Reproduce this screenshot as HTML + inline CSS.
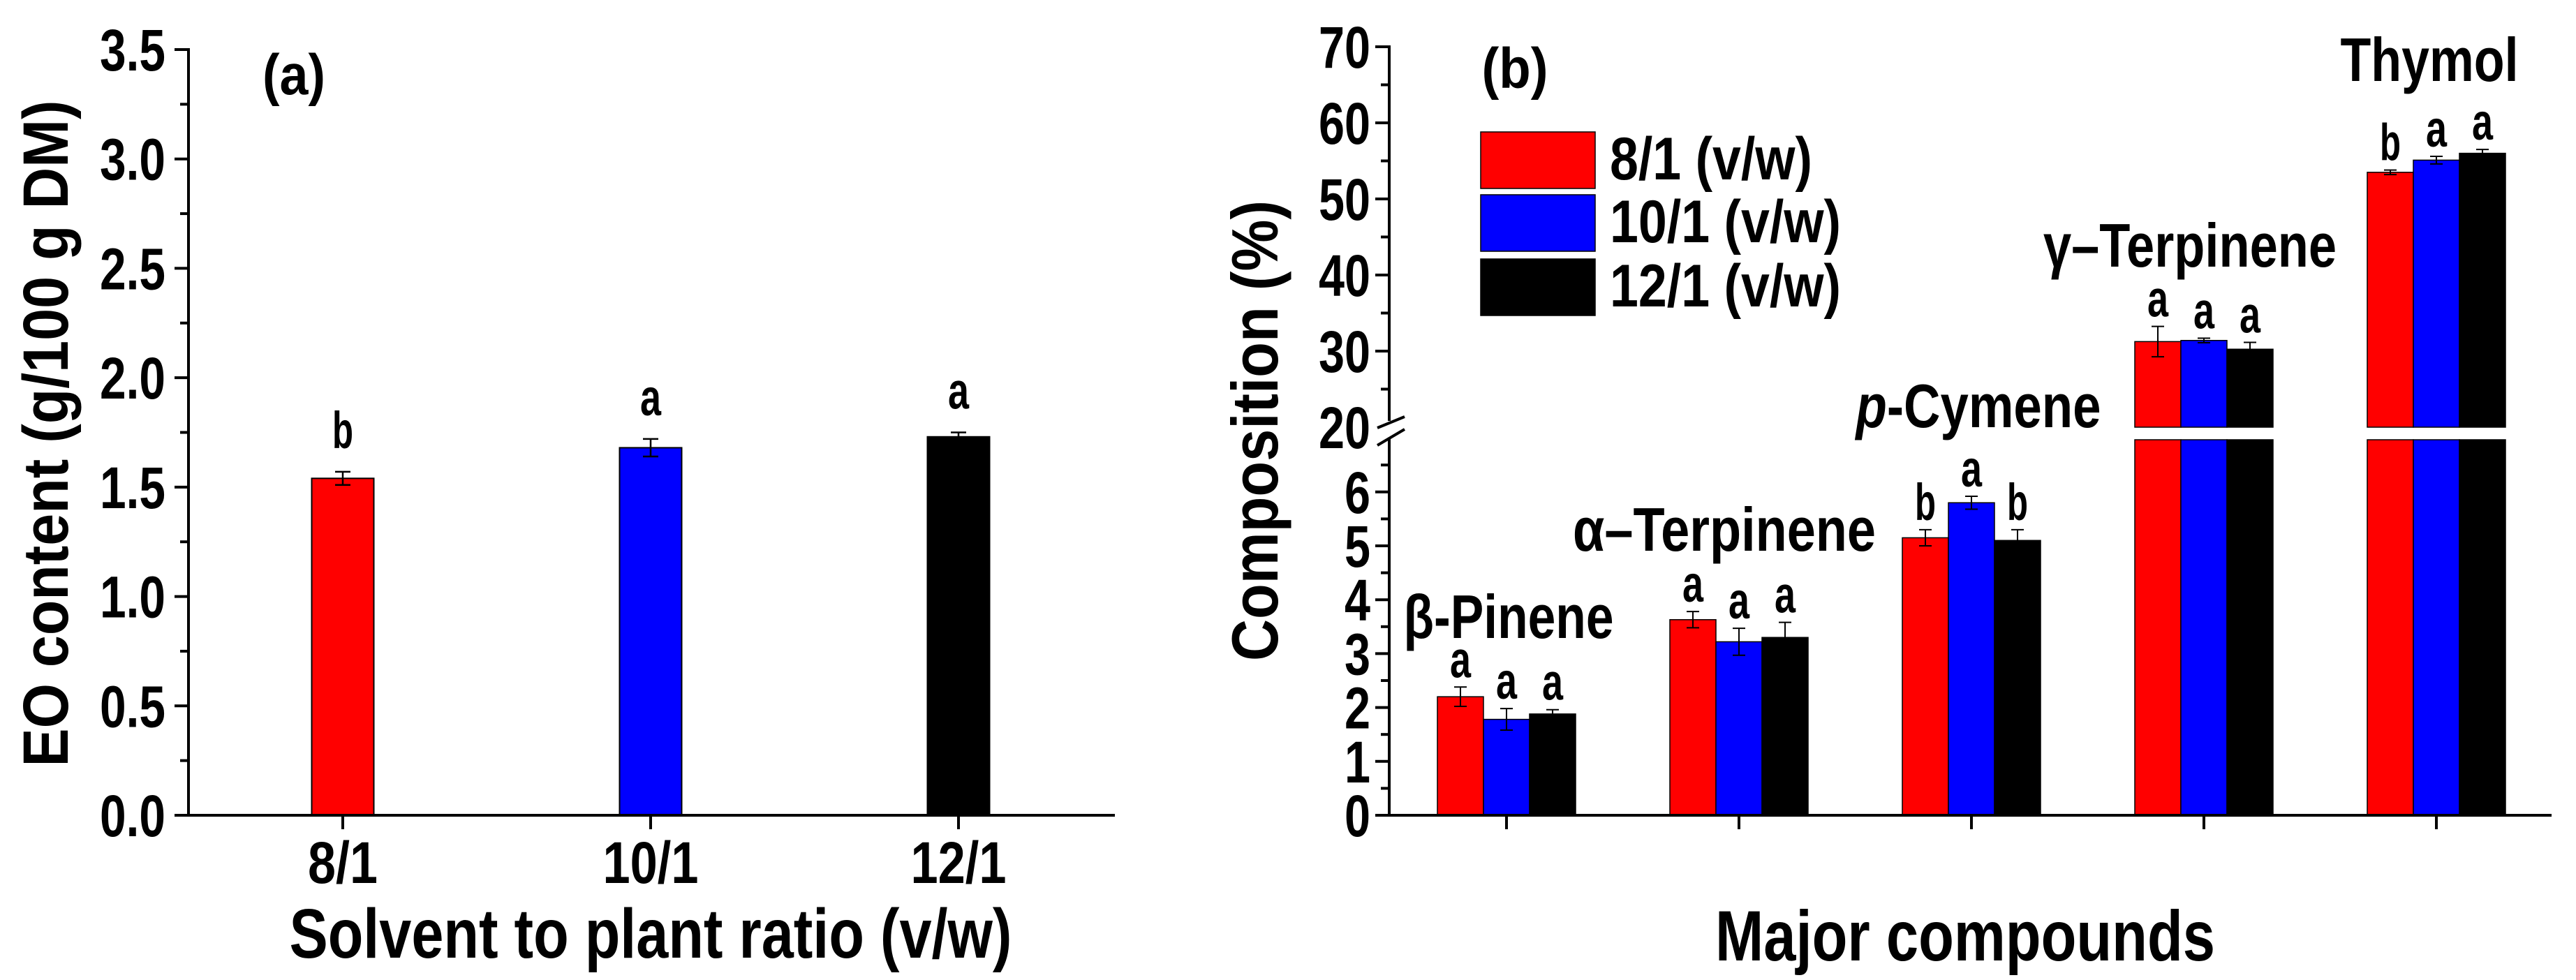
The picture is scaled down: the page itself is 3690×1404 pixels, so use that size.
<!DOCTYPE html>
<html><head><meta charset="utf-8">
<style>
html,body{margin:0;padding:0;background:#fff;}
svg{display:block;}
text{font-family:"Liberation Sans Narrow","Liberation Sans",sans-serif;font-weight:bold;fill:#000;}
.wide{font-family:"Liberation Sans",sans-serif;}
</style></head>
<body>
<svg id="chart" width="3690" height="1404" viewBox="0 0 3690 1404" xmlns="http://www.w3.org/2000/svg">
<g id="pa"></g>
<g id="pb"></g>
</svg>
<script>
// ---- Panel (a) data ----
const aCategories = ["8/1","10/1","12/1"];
const aValues = [1.54, 1.68, 1.73];
const aErrors = [0.03, 0.04, 0.02];
const aLetters = ["b","a","a"];
const aColors = ["#ff0000","#0000ff","#000000"];
const aTicks = ["0.0","0.5","1.0","1.5","2.0","2.5","3.0","3.5"];

// ---- Panel (b) data ----
const bCompounds = ["β-Pinene","α–Terpinene","p-Cymene","γ–Terpinene","Thymol"];
const bSeries = ["8/1 (v/w)","10/1 (v/w)","12/1 (v/w)"];
const b81 = [2.2, 3.63, 5.15, 31.25, 53.5];
const b101 = [1.78, 3.22, 5.8, 31.4, 55.1];
const b121 = [1.88, 3.3, 5.1, 30.25, 56.0];
const b81Err = [0.18, 0.15, 0.15, 2.0, 0.3];
const b101Err = [0.2, 0.25, 0.12, 0.3, 0.5];
const b121Err = [0.08, 0.28, 0.2, 0.9, 0.5];
const b81Let = ["a","a","b","a","b"];
const b101Let = ["a","a","a","a","a"];
const b121Let = ["a","a","b","a","a"];
const bLowTicks = ["0","1","2","3","4","5","6"];
const bHighTicks = ["20","30","40","50","60","70"];

const NS="http://www.w3.org/2000/svg";
function mk(parent, tag, attrs){const e=document.createElementNS(NS,tag);for(const k in attrs)e.setAttribute(k,attrs[k]);parent.appendChild(e);return e;}
function txt(parent,x,y,s,size,anchor,extra){const t=mk(parent,'text',Object.assign({x:x,y:y,'font-size':size,'text-anchor':anchor||'middle'},extra||{}));t.textContent=s;return t;}
function numW(s){let w=0;for(const ch of s){w+= ch==='.'?20: ch==='/'?26: 37;}return w;}
function numTxt(parent,x,y,s,anchor){return txt(parent,x,y,s,84,anchor,{textLength:numW(s),lengthAdjust:'spacingAndGlyphs'});}

// ===== Panel A =====
const pa=document.getElementById('pa');
const aX0=270, aX1=1597, aY0=1168, aYTop=71, aMax=3.5;
const ay=v=>aY0-(v/aMax)*(aY0-aYTop);
const aCenters=[491,932,1372];
const ax=i=>aCenters[0]+i*(aCenters[1]-aCenters[0]);
const aBW=89;
aValues.forEach((v,i)=>{
  const r=mk(pa,'rect',{x:ax(i)-aBW/2,y:ay(v),width:aBW,height:aY0-ay(v),fill:aColors[i],stroke:'#000','stroke-width':2});
  
  
  const top=ay(v+aErrors[i]), bot=ay(v-aErrors[i]);
  const eb=mk(pa,'path',{d:`M${ax(i)},${top}V${bot}M${ax(i)-11},${top}h22M${ax(i)-11},${bot}h22`,stroke:'#000','stroke-width':2.5,fill:'none'});
  
  
  const l=txt(pa,ax(i),top-34,aLetters[i],74,'middle',{textLength:30,lengthAdjust:'spacingAndGlyphs'});
  
  
  const tl=numTxt(pa,ax(i),1265,aCategories[i],'middle');
  
  
  mk(pa,'line',{x1:ax(i),y1:aY0,x2:ax(i),y2:aY0+20,stroke:'#000','stroke-width':4});
});
aTicks.forEach((s,i)=>{
  const v=parseFloat(s), y=ay(v);
  mk(pa,'line',{x1:aX0-20,y1:y,x2:aX0,y2:y,stroke:'#000','stroke-width':4});
  if(i<aTicks.length-1) mk(pa,'line',{x1:aX0-12,y1:ay(v+0.25),x2:aX0,y2:ay(v+0.25),stroke:'#000','stroke-width':4});
  const t=numTxt(pa,237,y+30,s,'end');
  
  
});
mk(pa,'line',{x1:aX0,y1:aYTop-2,x2:aX0,y2:aY0+2,stroke:'#000','stroke-width':4,});
mk(pa,'line',{x1:aX0-20,y1:aY0,x2:aX1,y2:aY0,stroke:'#000','stroke-width':4,});
txt(pa,421,135,"(a)",82,'middle',{textLength:90,lengthAdjust:'spacingAndGlyphs',});
txt(pa,0,0,"EO content (g/100 g DM)",92,'middle',{'class':'wide',transform:'translate(97,621) rotate(-90)',textLength:955,lengthAdjust:'spacingAndGlyphs',});
txt(pa,932,1372,"Solvent to plant ratio (v/w)",100,'middle',{textLength:1035,lengthAdjust:'spacingAndGlyphs',});

// ===== Panel B =====
const pb=document.getElementById('pb');
const bX0=1990, bX1=3655, bY0=1168, lowUnit=77.2, lowTop=6.95, highBase=612, highUnit=10.9;
const by=v=>v<=lowTop? bY0-v*lowUnit : highBase-(v-20)*highUnit;
const bCenters=[2158,2491];
const bx=i=>bCenters[0]+i*(bCenters[1]-bCenters[0]);
const bBW=66;
const gapTop=612, gapBot=630;
const series=[[b81,b81Err,b81Let,'#ff0000'],[b101,b101Err,b101Let,'#0000ff'],[b121,b121Err,b121Let,'#000000']];
bCompounds.forEach((c,i)=>{
  series.forEach((s,j)=>{
    const v=s[0][i], x=bx(i)+(j-1)*bBW-bBW/2;
    if(v>lowTop){
      const r1=mk(pb,'rect',{x:x,y:by(v),width:bBW,height:gapTop-by(v),fill:s[3],stroke:'#000','stroke-width':1.5});
      
      
      const r2=mk(pb,'rect',{x:x,y:gapBot,width:bBW,height:bY0-gapBot,fill:s[3],stroke:'#000','stroke-width':1.5});
      
      
    } else {
      const r=mk(pb,'rect',{x:x,y:by(v),width:bBW,height:bY0-by(v),fill:s[3],stroke:'#000','stroke-width':1.5});
      
      
    }
    const cx=x+bBW/2, e=s[1][i], top=by(v+e), bot=by(v-e);
    const eb=mk(pb,'path',{d:`M${cx},${top}V${bot}M${cx-9},${top}h18M${cx-9},${bot}h18`,stroke:'#000','stroke-width':2,fill:'none'});
    
    
    const l=txt(pb,cx,top-14,s[2][i],74,'middle',{textLength:30,lengthAdjust:'spacingAndGlyphs'});
    
    
  });
  mk(pb,'line',{x1:bx(i),y1:bY0,x2:bx(i),y2:bY0+20,stroke:'#000','stroke-width':4});
});
// compound labels
const clab=[[2161,914,"β-Pinene",301],[2470,789,"α–Terpinene",434],[2834,612,"p-Cymene",351],[3137,382,"γ–Terpinene",420],[3480,116,"Thymol",255]];
clab.forEach(c=>{
  const t=txt(pb,c[0],c[1],'',88,'middle',{textLength:c[3],lengthAdjust:'spacingAndGlyphs'});
  if(c[2]==="p-Cymene"){const a=mk(t,'tspan',{'font-style':'italic'});a.textContent='p';const b=mk(t,'tspan',{});b.textContent='-Cymene';}
  else t.textContent=c[2];
  
  
});
bLowTicks.forEach((s,i)=>{
  const v=parseFloat(s), y=by(v);
  mk(pb,'line',{x1:bX0-20,y1:y,x2:bX0,y2:y,stroke:'#000','stroke-width':4});
  mk(pb,'line',{x1:bX0-12,y1:by(v+0.5),x2:bX0,y2:by(v+0.5),stroke:'#000','stroke-width':4});
  const t=numTxt(pb,1963,y+30,s,'end');
  
  
});
bHighTicks.forEach((s,i)=>{
  const v=parseFloat(s), y=by(v);
  if(v>20) mk(pb,'line',{x1:bX0-20,y1:y,x2:bX0,y2:y,stroke:'#000','stroke-width':4});
  if(v<70) mk(pb,'line',{x1:bX0-12,y1:by(v+5),x2:bX0,y2:by(v+5),stroke:'#000','stroke-width':4});
  const t=numTxt(pb,1963,y+30,s,'end');
  
  
});
mk(pb,'line',{x1:bX0,y1:by(70)-2,x2:bX0,y2:603,stroke:'#000','stroke-width':4,});
mk(pb,'line',{x1:bX0,y1:628,x2:bX0,y2:bY0+2,stroke:'#000','stroke-width':4,});
mk(pb,'path',{d:'M1973,613L2012,597M1973,638L2012,615',stroke:'#000','stroke-width':4,fill:'none',});
mk(pb,'line',{x1:bX0-20,y1:bY0,x2:bX1,y2:bY0,stroke:'#000','stroke-width':4,});
txt(pb,2170,126,"(b)",82,'middle',{textLength:95,lengthAdjust:'spacingAndGlyphs',});
const legY=[189,279,371];
const legW=[290,331,331];
bSeries.forEach((s,i)=>{
  const r=mk(pb,'rect',{x:2121,y:legY[i],width:164,height:81,fill:series[i][3],stroke:'#000','stroke-width':1.5});
  
  
  const t=txt(pb,2306,legY[i]+68,s,86,'start',{textLength:legW[i],lengthAdjust:'spacingAndGlyphs'});
  
  
});
txt(pb,0,0,"Composition (%)",94,'middle',{'class':'wide',transform:'translate(1830,617) rotate(-90)',textLength:660,lengthAdjust:'spacingAndGlyphs',});
txt(pb,2815,1376,"Major compounds",102,'middle',{textLength:716,lengthAdjust:'spacingAndGlyphs',});
</script>
</body></html>
